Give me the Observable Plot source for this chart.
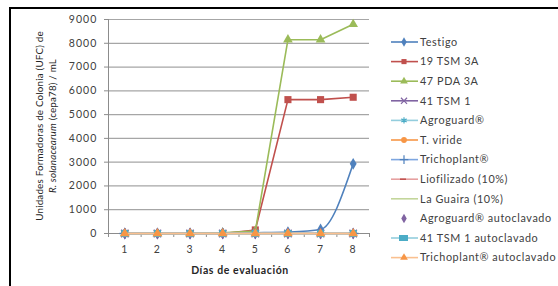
<!DOCTYPE html>
<html><head><meta charset="utf-8">
<script src="https://cdn.jsdelivr.net/npm/d3@7"></script>
<script src="https://cdn.jsdelivr.net/npm/@observablehq/plot@0.6"></script>
<style>
body{margin:0;background:#fff;}
#wrap{position:relative;width:558px;height:286px;overflow:hidden;background:#fff;}
#frame{position:absolute;left:9px;top:7px;width:700px;height:400px;border-top:2px solid #000;border-left:2px solid #000;}
#chart{position:absolute;left:0;top:0;}
#chart svg g[aria-label="y-axis tick label"] text, #chart svg g[aria-label="x-axis tick label"] text{letter-spacing:1.1px;}
</style></head><body><div id="wrap"><div id="frame"></div><div id="chart"></div></div>
<script>
// ---- data ----
const days = [1, 2, 3, 4, 5, 6, 7, 8];
const seriesNames = ["Testigo", "19 TSM 3A", "47 PDA 3A", "41 TSM 1", "Agroguard®", "T. viride",
  "Trichoplant®", "Liofilizado (10%)", "La Guaira (10%)", "Agroguard® autoclavado",
  "41 TSM 1 autoclavado", "Trichoplant® autoclavado"];
const testigo = [0, 0, 0, 10, 30, 60, 170, 2930];
const tsm19_3A = [0, 0, 0, 0, 150, 5630, 5630, 5730];
const pda47_3A = [0, 0, 0, 30, 100, 8150, 8150, 8800];
const tsm41_1 = [0, 0, 0, 0, 0, 0, 0, 0];
const agroguard = [0, 0, 0, 0, 0, 0, 0, 0];
const tViride = [0, 0, 0, 0, 0, 0, 0, 0];
const trichoplant = [0, 0, 0, 0, 0, 0, 0, 0];
const liofilizado = [0, 0, 0, 0, 0, 0, 0, 0];
const laGuaira = [0, 0, 0, 0, 0, 0, 0, 0];
const agroguardAuto = [0, 0, 0, 0, 0, 0, 0, 0];
const tsm41_1Auto = [0, 0, 0, 0, 0, 0, 0, 0];
const trichoplantAuto = [0, 0, 0, 0, 0, 0, 0, 0];
const seriesValues = [testigo, tsm19_3A, pda47_3A, tsm41_1, agroguard, tViride, trichoplant,
  liofilizado, laGuaira, agroguardAuto, tsm41_1Auto, trichoplantAuto];
const yTicks = [0, 1000, 2000, 3000, 4000, 5000, 6000, 7000, 8000, 9000];
const categoryEdges = [0.5, 1.5, 2.5, 3.5, 4.5, 5.5, 6.5, 7.5, 8.5];

// ---- styles ----
const lineColors = ["#4F81BD", "#C0504D", "#9BBB59", "#8064A2", "#93CDDD", "#F79646",
  "#7EA6E0", "#E6A0A0", "#C3D69B", null, "#93CDDD", "#FAC090"];
const markColors = ["#4F81BD", "#C0504D", "#9BBB59", "#8064A2", "#4BACC6", "#F79646",
  "#4F81BD", "#C0504D", null, "#8064A2", "#4BACC6", "#F79646"];
const markSymbols = ["diamond", "square", "triangle", "times", "asterisk", "circle",
  "plus", "dash", null, "diamond", "square", "triangle"];
const lineCurves = ["monotone-x", "linear", "linear", "linear", "linear", "linear",
  "linear", "linear", "linear", "linear", "linear", "linear"];
const strokeSymbols = new Set(["times", "asterisk", "plus", "dash"]);
const dashSymbol = {draw(ctx, size) { const w = Math.sqrt(size) * 0.6; ctx.moveTo(-w, 0); ctx.lineTo(w, 0); }};

const rows = [];
seriesNames.forEach((name, i) => days.forEach((d, j) => rows.push({name, day: d, value: seriesValues[i][j]})));

const marks = [
  Plot.gridY(yTicks, {stroke: "#a6a6a6", strokeOpacity: 1, strokeWidth: 1.2}),
  Plot.ruleX([0.5], {stroke: "#8c8c8c"}),
  Plot.ruleY([0], {stroke: "#8c8c8c"}),
  Plot.axisY(yTicks, {tickSize: 4, tickPadding: 7, stroke: "#8c8c8c", label: null, tickFormat: d => String(d), fontSize: 10.5, fill: "#404040"}),
  Plot.axisX(categoryEdges, {tickSize: 4, tickFormat: () => "", label: null, stroke: "#8c8c8c"}),
  Plot.axisX(days, {tickSize: 0, tickPadding: 12, label: null, tickFormat: String, fontSize: 10.5, fill: "#404040"})
];
seriesNames.forEach((name, i) => {
  const data = rows.filter(r => r.name === name);
  if (lineColors[i]) marks.push(Plot.line(data, {x: "day", y: "value", stroke: lineColors[i], strokeWidth: 1.6, curve: lineCurves[i]}));
  const sym = markSymbols[i];
  if (!sym) return;
  const symbol = sym === "dash" ? dashSymbol : sym;
  if (strokeSymbols.has(sym)) {
    marks.push(Plot.dot(data, {x: "day", y: "value", symbol, stroke: markColors[i], strokeWidth: 1.3, r: 3.5}));
  } else {
    marks.push(Plot.dot(data, {x: "day", y: "value", symbol, fill: markColors[i], stroke: "none", r: sym === "square" ? 4 : 3.6}));
  }
});

const chart = Plot.plot({
  width: 558, height: 286,
  marginLeft: 108, marginRight: 189, marginTop: 19, marginBottom: 53,
  style: {background: "transparent", fontFamily: "Lato, 'Open Sans', sans-serif", fontSize: "10px", color: "#404040"},
  x: {type: "linear", domain: [0.5, 8.5]},
  y: {domain: [0, 9000]},
  marks
});
document.getElementById("chart").appendChild(chart);

// ---- titles & legend ----
const svg = d3.select(chart);
const font = "Lato, 'Open Sans', sans-serif";
const yt = svg.append("text").attr("transform", "translate(40,126) rotate(-90)")
  .attr("text-anchor", "middle").attr("font-family", font).attr("font-size", 9.8).attr("letter-spacing", 0.2).attr("fill", "#262626");
yt.append("tspan").attr("x", 0).attr("dy", "0.35em").text("Unidades Formadoras de Colonia (UFC) de");
const l2 = yt.append("tspan").attr("x", 0).attr("dy", "1.25em");
l2.append("tspan").attr("font-style", "italic").text("R. solanacearum");
l2.append("tspan").text(" (cepa78) / mL");

svg.append("text").attr("x", 240).attr("y", 270).attr("dy", "0.35em").attr("text-anchor", "middle")
  .attr("font-family", font).attr("font-size", 10.5).attr("letter-spacing", 0.6).attr("font-weight", "bold").attr("fill", "#262626")
  .text("Días de evaluación");

const lg = svg.append("g").attr("font-family", font).attr("font-size", 10.8).attr("letter-spacing", 0.6)
  .attr("fill", "#404040").attr("text-anchor", "start");
seriesNames.forEach((name, i) => {
  const y = 42 + i * 19.6;
  const g = lg.append("g").attr("transform", `translate(0,${y})`);
  if (lineColors[i]) g.append("line").attr("x1", 391).attr("x2", 418).attr("stroke", lineColors[i]).attr("stroke-width", 1.6);
  const sym = markSymbols[i];
  if (sym === "dash") {
    g.append("line").attr("x1", 400).attr("x2", 406).attr("stroke", markColors[i]).attr("stroke-width", 1.5);
  } else if (sym === "square" && i === 10) {
    g.append("rect").attr("x", 399).attr("y", -3).attr("width", 9).attr("height", 6).attr("fill", markColors[i]);
  } else if (sym) {
    const map = {diamond: d3.symbolDiamond, square: d3.symbolSquare, triangle: d3.symbolTriangle, circle: d3.symbolCircle,
      times: d3.symbolTimes, asterisk: d3.symbolAsterisk, plus: d3.symbolPlus};
    const p = d3.symbol(map[sym], 26)();
    const s = g.append("path").attr("d", p).attr("transform", "translate(404,0)");
    if (strokeSymbols.has(sym)) s.attr("fill", "none").attr("stroke", markColors[i]).attr("stroke-width", 1.2);
    else s.attr("fill", markColors[i]);
  }
  g.append("text").attr("x", 420).attr("dy", "0.35em").text(name);
});
</script></body></html>
